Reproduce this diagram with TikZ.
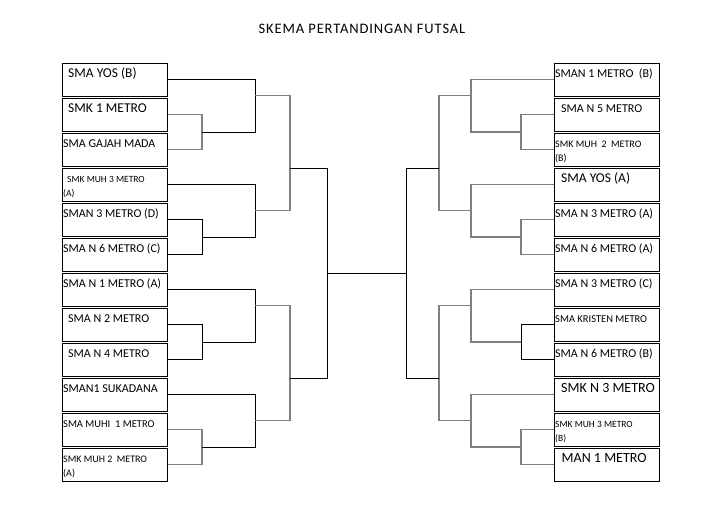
\documentclass[tikz,border=0pt]{standalone}
\usepackage{fontspec}
\setmainfont{Carlito}
\newfontfamily\titlefont[LetterSpace=6]{Carlito}
\usetikzlibrary{calc}

\tikzset{
  team/.style={draw, line width=0.8pt, minimum width=105pt, minimum height=33pt, inner sep=0pt, anchor=north west},
  tname/.style={anchor=base west, inner sep=0pt, yshift=-14.5pt},
  wire/.style={draw=black, line width=0.8pt},
  wireg/.style={draw=black!50, line width=1.3pt},
}

% [#1] where the winner leaves, #2 upper entry, #3 lower entry, #4 column, #5 winner point, #6 style
\newcommand\bracket[6][.5]{%
  \draw[#6] (#2) -- (#2 -| #4) -- (#3 -| #4) -- (#3);
  \coordinate (#5) at ($(#2 -| #4)!#1!(#3 -| #4)$);
}

\begin{document}
\begin{tikzpicture}[x=1pt, y=-1pt]
\useasboundingbox (0,0) rectangle (725,514);

\node[anchor=base, font=\titlefont\fontsize{14.5}{16}\selectfont] (title) at (362,33.5) {SKEMA PERTANDINGAN FUTSAL};

% left half
\foreach \i/\ind/\fs/\txt in {1/6/13.5/SMA YOS (B), 2/6/13.5/SMK 1 METRO, 3/1/12/SMA GAJAH MADA,
  4/1/9.5/\hspace{4pt}SMK MUH 3 METRO\\(A), 5/1/12/SMAN 3 METRO (D), 6/1/12/SMA N 6 METRO (C),
  7/1/12/SMA N 1 METRO (A), 8/6/12/SMA N 2 METRO, 9/6/12/SMA N 4 METRO, 10/1/12/SMAN1 SUKADANA,
  11/1/10.5/SMA MUHI\ \ 1 METRO, 12/1/10/SMK MUH 2\ \ METRO\\(A)}
  \node[team, label={[tname, font=\fontsize{\fs}{14.5}\selectfont, xshift=\ind pt]north west:{\parbox[t]{103pt}{\txt}}}] (L\i) at (62,27.5+35*\i) {};

% right half
\foreach \i/\ind/\fs/\txt in {1/1/12/SMAN 1 METRO\ \ (B), 2/7/12/SMA N 5 METRO, 3/1/10/SMK MUH\ \ 2\ \ METRO\\(B),
  4/7/13.5/SMA YOS (A), 5/1/12/SMA N 3 METRO (A), 6/1/12/SMA N 6 METRO (A),
  7/1/12/SMA N 3 METRO (C), 8/1/10.5/SMA KRISTEN METRO, 9/1/12/SMA N 6 METRO (B),
  10/7/14/SMK N 3 METRO, 11/1/9.5/SMK MUH 3 METRO\\(B), 12/7.5/14/MAN 1 METRO}
  \node[team, label={[tname, font=\fontsize{\fs}{14.5}\selectfont, xshift=\ind pt]north west:{\parbox[t]{103pt}{\txt}}}] (R\i) at (554,27.5+35*\i) {};

\coordinate (la) at (202,0); \coordinate (lb) at (255,0);
\coordinate (lc) at (290,0); \coordinate (ld) at (327,0);
\coordinate (ra) at (521,0); \coordinate (rb) at (471,0);
\coordinate (rc) at (439,0); \coordinate (rd) at (406,0);

\bracket{L2.east}{L3.east}{la}{l23}{wireg}
\bracket[.3]{L1.east}{l23}{lb}{l13}{wire}
\bracket{L5.east}{L6.east}{la}{l56}{wire}
\bracket{L4.east}{l56}{lb}{l46}{wire}
\bracket[.63]{l13}{l46}{lc}{l16}{wireg}
\bracket{L8.east}{L9.east}{la}{l89}{wire}
\bracket[.3]{L7.east}{l89}{lb}{l79}{wire}
\bracket{L11.east}{L12.east}{la}{l1112}{wireg}
\bracket{L10.east}{l1112}{lb}{l1012}{wire}
\bracket[.63]{l79}{l1012}{lc}{l712}{wireg}
\bracket{l16}{l712}{ld}{lwin}{wire}

\bracket{R2.west}{R3.west}{ra}{r23}{wireg}
\bracket[.3]{R1.west}{r23}{rb}{r13}{wireg}
\bracket{R5.west}{R6.west}{ra}{r56}{wireg}
\bracket{R4.west}{r56}{rb}{r46}{wireg}
\bracket[.63]{r13}{r46}{rc}{r16}{wireg}
\bracket{R8.west}{R9.west}{ra}{r89}{wire}
\bracket[.3]{R7.west}{r89}{rb}{r79}{wireg}
\bracket{R11.west}{R12.west}{ra}{r1112}{wireg}
\bracket{R10.west}{r1112}{rb}{r1012}{wireg}
\bracket[.63]{r79}{r1012}{rc}{r712}{wireg}
\bracket{r16}{r712}{rd}{rwin}{wire}

\draw[wire] (lwin) -- (rwin);

\end{tikzpicture}
\end{document}
